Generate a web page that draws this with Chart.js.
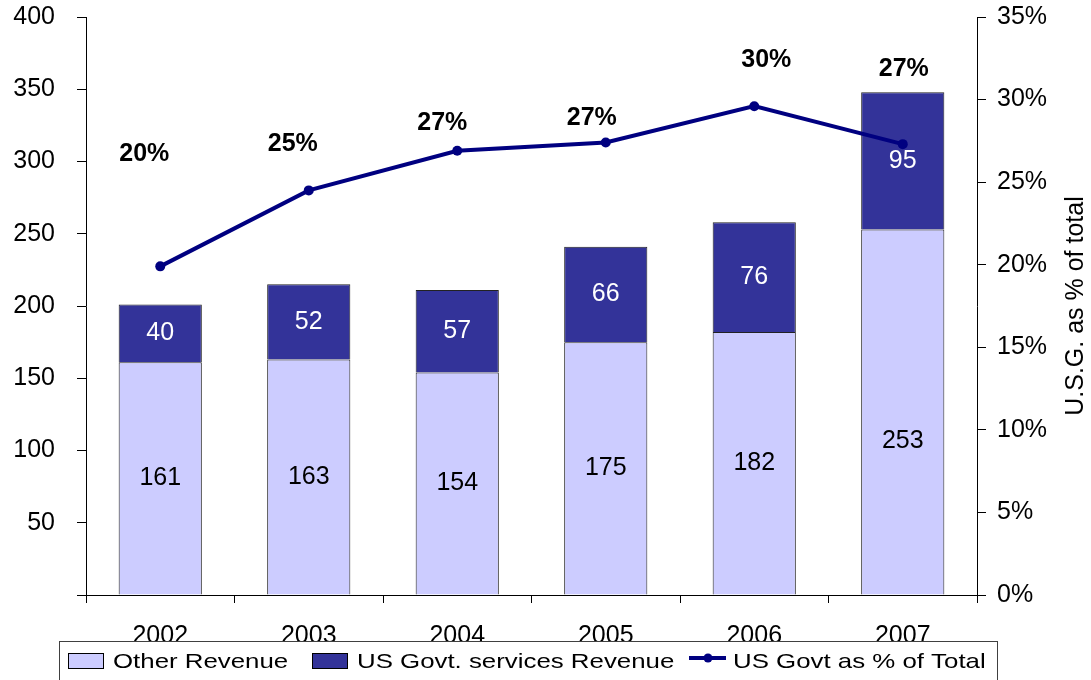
<!DOCTYPE html>
<html>
<head>
<meta charset="utf-8">
<script src="https://cdn.jsdelivr.net/npm/chart.js@4.4.0/dist/chart.umd.min.js"></script>
<style>
  html, body { margin: 0; padding: 0; background: #fff; }
  #wrap { width: 1091px; height: 680px; }
</style>
</head>
<body>
<div id="wrap"><canvas id="chart" width="1091" height="680"></canvas></div>
<script>
// values
const years = ['2002', '2003', '2004', '2005', '2006', '2007'];
const otherRevenue = [161, 163, 154, 175, 182, 253];
const govtRevenue = [40, 52, 57, 66, 76, 95];
const govtShare = [19.9, 24.5, 26.9, 27.4, 29.6, 27.3];
const shareLabels = ['20%', '25%', '27%', '27%', '30%', '27%'];
const legendNames = ['Other Revenue', 'US Govt. services Revenue', 'US Govt as % of Total'];

const LIGHT = '#CCCCFF';
const DARK = '#333399';
const NAVY = '#000080';
const FONT = '"Liberation Sans", Arial, sans-serif';

Chart.defaults.font.family = FONT;
Chart.defaults.color = '#000';

// numbers written inside the bar segments
const segmentLabels = {
  id: 'segmentLabels',
  afterDatasetsDraw(chart, args, opts) {
    const ctx = chart.ctx;
    ctx.save();
    ctx.font = '25px ' + FONT;
    ctx.textAlign = 'center';
    ctx.textBaseline = 'middle';
    [0, 1].forEach(di => {
      const ds = chart.data.datasets[di];
      chart.getDatasetMeta(di).data.forEach((bar, i) => {
        const shift = (opts.shift[di] && opts.shift[di][i]) || 0;
        ctx.fillStyle = di === 0 ? '#000' : '#fff';
        ctx.fillText(String(ds.data[i]), bar.x, (bar.y + bar.base) / 2 + shift);
      });
    });
    ctx.restore();
  }
};

// bold share labels above the line
const shareText = {
  id: 'shareText',
  afterDatasetsDraw(chart, args, opts) {
    const ctx = chart.ctx;
    ctx.save();
    ctx.font = 'bold 25px ' + FONT;
    ctx.textAlign = 'center';
    ctx.textBaseline = 'middle';
    ctx.fillStyle = '#000';
    chart.getDatasetMeta(2).data.forEach((pt, i) => {
      const [dx, dy] = opts.offsets[i];
      ctx.fillText(shareLabels[i], pt.x + dx, pt.y + dy);
    });
    ctx.restore();
  }
};

// right axis title (reads bottom to top) and the boxed legend
const extras = {
  id: 'extras',
  afterDraw(chart) {
    const ctx = chart.ctx;
    const area = chart.chartArea;
    ctx.save();
    ctx.fillStyle = '#000';
    ctx.font = '25px ' + FONT;
    ctx.textAlign = 'center';
    ctx.textBaseline = 'middle';
    ctx.translate(1076, (area.top + area.bottom) / 2);
    ctx.rotate(-Math.PI / 2);
    ctx.fillText('U.S.G. as % of total', 0, 0);
    ctx.restore();

    ctx.save();
    ctx.fillStyle = '#fff';
    ctx.fillRect(59, 641, 938, 45);
    ctx.strokeStyle = '#404040';
    ctx.lineWidth = 1;
    ctx.strokeRect(59.5, 641.5, 938, 45);

    const drawText = (txt, x) => {
      ctx.save();
      ctx.translate(x, 662);
      ctx.scale(1.23, 1);
      ctx.fillStyle = '#000';
      ctx.font = '21px ' + FONT;
      ctx.textAlign = 'left';
      ctx.textBaseline = 'middle';
      ctx.fillText(txt, 0, 0);
      ctx.restore();
    };
    ctx.lineWidth = 1;
    ctx.strokeStyle = '#000';
    ctx.fillStyle = LIGHT;
    ctx.fillRect(68, 653, 35, 15);
    ctx.strokeRect(68.5, 653.5, 35, 15);
    drawText(legendNames[0], 113);

    ctx.fillStyle = DARK;
    ctx.fillRect(312, 653, 35, 15);
    ctx.strokeRect(312.5, 653.5, 35, 15);
    drawText(legendNames[1], 357);

    ctx.strokeStyle = NAVY;
    ctx.lineWidth = 4;
    ctx.beginPath();
    ctx.moveTo(689, 658);
    ctx.lineTo(726, 658);
    ctx.stroke();
    ctx.fillStyle = NAVY;
    ctx.beginPath();
    ctx.arc(708, 658, 4.5, 0, Math.PI * 2);
    ctx.fill();
    drawText(legendNames[2], 733);
    ctx.restore();
  }
};

const noPad = scale => {
  scale.paddingTop = 0;
  scale.paddingBottom = 0;
};

const ctx = document.getElementById('chart').getContext('2d');
new Chart(ctx, {
  data: {
    labels: years,
    datasets: [
      {
        type: 'bar',
        label: legendNames[0],
        data: otherRevenue,
        backgroundColor: LIGHT,
        borderColor: '#222',
        borderWidth: 1,
        yAxisID: 'y',
        stack: 'rev',
        order: 1,
        barPercentage: 0.56,
        categoryPercentage: 1
      },
      {
        type: 'bar',
        label: legendNames[1],
        data: govtRevenue,
        backgroundColor: DARK,
        borderColor: '#222',
        borderWidth: 1,
        yAxisID: 'y',
        stack: 'rev',
        order: 1,
        barPercentage: 0.56,
        categoryPercentage: 1
      },
      {
        type: 'line',
        label: legendNames[2],
        data: govtShare,
        borderColor: NAVY,
        backgroundColor: NAVY,
        borderWidth: 4,
        pointRadius: 5,
        pointBorderWidth: 0,
        tension: 0,
        yAxisID: 'y2',
        order: 0
      }
    ]
  },
  options: {
    responsive: false,
    animation: false,
    devicePixelRatio: 1,
    layout: { padding: { top: 17, left: 0, right: 0, bottom: 0 } },
    plugins: {
      legend: { display: false },
      tooltip: { enabled: false },
      segmentLabels: { shift: { 0: [0, 0, 0, 0, 0, 29] } },
      shareText: {
        offsets: [[-16, -112], [-16, -46], [-15, -28], [-14, -24], [12, -46], [1, -75]]
      }
    },
    scales: {
      x: {
        stacked: true,
        grid: { offset: true, drawOnChartArea: false, tickLength: 8, color: '#000' },
        border: { color: '#000', width: 1 },
        ticks: { font: { size: 25 }, color: '#000', padding: 18, maxRotation: 0 },
        afterFit(scale) { scale.height = 85; }
      },
      y: {
        stacked: true,
        position: 'left',
        min: 0,
        max: 400,
        grid: { drawOnChartArea: false, tickLength: 9, color: '#000' },
        border: { color: '#000', width: 1 },
        ticks: {
          stepSize: 50,
          font: { size: 25 },
          color: '#000',
          padding: 22,
          callback: v => (v === 0 ? '' : v)
        },
        afterFit(scale) { scale.width = 86; noPad(scale); }
      },
      y2: {
        position: 'right',
        min: 0,
        max: 35,
        grid: { drawOnChartArea: false, tickLength: 9, color: '#000' },
        border: { color: '#000', width: 1 },
        ticks: {
          stepSize: 5,
          font: { size: 25 },
          color: '#000',
          padding: 11,
          callback: v => v + '%'
        },
        afterFit(scale) { scale.width = 114; noPad(scale); }
      }
    }
  },
  plugins: [segmentLabels, shareText, extras]
});
</script>
</body>
</html>
